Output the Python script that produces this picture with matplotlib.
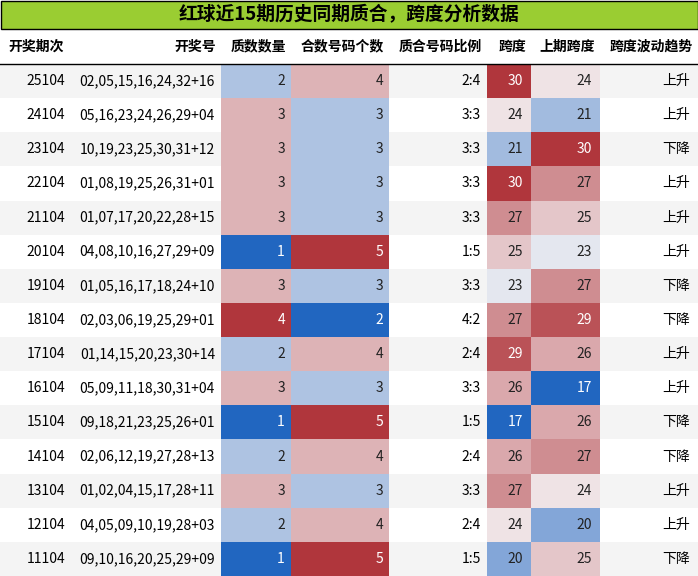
import matplotlib
matplotlib.use("Agg")
import matplotlib.pyplot as plt
from matplotlib.colors import LinearSegmentedColormap
from matplotlib.patches import Rectangle

plt.rcParams['font.family'] = ['Noto Sans CJK SC', 'DejaVu Sans']

title = "红球近15期历史同期质合，跨度分析数据"
headers = ["开奖期次", "开奖号", "质数数量", "合数号码个数", "质合号码比例", "跨度", "上期跨度", "跨度波动趋势"]
periods = ["25104","24104","23104","22104","21104","20104","19104","18104","17104","16104","15104","14104","13104","12104","11104"]
numbers = ["02,05,15,16,24,32+16","05,16,23,24,26,29+04","10,19,23,25,30,31+12","01,08,19,25,26,31+01",
           "01,07,17,20,22,28+15","04,08,10,16,27,29+09","01,05,16,17,18,24+10","02,03,06,19,25,29+01",
           "01,14,15,20,23,30+14","05,09,11,18,30,31+04","09,18,21,23,25,26+01","02,06,12,19,27,28+13",
           "01,02,04,15,17,28+11","04,05,09,10,19,28+03","09,10,16,20,25,29+09"]
primes = [2,3,3,3,3,1,3,4,2,3,1,2,3,2,1]
composites = [4,3,3,3,3,5,3,2,4,3,5,4,3,4,5]
ratios = ["2:4","3:3","3:3","3:3","3:3","1:5","3:3","4:2","2:4","3:3","1:5","2:4","3:3","2:4","1:5"]
spans = [30,24,21,30,27,25,23,27,29,26,17,26,27,24,20]
prev_spans = [24,21,30,27,25,23,27,29,26,17,26,27,24,20,25]
trends = ["上升","上升","下降","上升","上升","上升","下降","下降","上升","上升","下降","下降","上升","上升","下降"]

cmap = LinearSegmentedColormap.from_list("c", ["#2166c0", "#f4f1f3", "#b0363c"])

W, H = 698, 576
fig = plt.figure(figsize=(W/100, H/100), dpi=100)
ax = fig.add_axes([0, 0, 1, 1])
ax.set_xlim(0, W); ax.set_ylim(H, 0); ax.axis('off')

# title
ax.add_patch(Rectangle((0.5, 0.5), W-1, 28, facecolor="#9acd32", edgecolor="black", lw=1))
ax.text(W/2, 15, title, ha='center', va='center', fontsize=13.5, fontweight='bold')

cols = [0, 70, 221, 291, 389, 487, 531, 600, 698]
hy0, hy1 = 29, 64
rh = (H - hy1) / 15
aligns = ['right','right','right','right','right','right','right','right']
for j, h in enumerate(headers):
    ax.text(cols[j+1]-5 if j != 0 else 8, (hy0+hy1)/2, h, ha='right' if j else 'left',
            va='center', fontsize=10, fontweight='bold')
ax.plot([0, W], [hy1, hy1], color='black', lw=1)

def col_of(v, lo, hi):
    t = (v - lo) / (hi - lo)
    c = cmap(t)
    return c, ('white' if abs(t - 0.5) > 0.4 else '#222222')

for i in range(15):
    y0 = hy1 + i*rh
    yc = y0 + rh/2
    ax.add_patch(Rectangle((0, y0), W, rh, facecolor='#f4f4f4' if i % 2 == 0 else 'white', lw=0))
    ax.text(cols[1]-5, yc, periods[i], ha='right', va='center', fontsize=10)
    ax.text(cols[2]-6, yc, numbers[i], ha='right', va='center', fontsize=10)
    for j, (v, lo, hi) in zip([2, 3], [(primes[i], 1, 4), (composites[i], 2, 5)]):
        fc, tc = col_of(v, lo, hi)
        ax.add_patch(Rectangle((cols[j], y0), cols[j+1]-cols[j], rh, facecolor=fc, lw=0))
        ax.text(cols[j+1]-6, yc, str(v), ha='right', va='center', fontsize=10, color=tc)
    ax.text(cols[5]-6, yc, ratios[i], ha='right', va='center', fontsize=10)
    for j, v in zip([5, 6], [spans[i], prev_spans[i]]):
        fc, tc = col_of(v, 17, 30)
        ax.add_patch(Rectangle((cols[j], y0), cols[j+1]-cols[j], rh, facecolor=fc, lw=0))
        ax.text(cols[j+1]-8, yc, str(v), ha='right', va='center', fontsize=10, color=tc)
    ax.text(cols[8]-8, yc, trends[i], ha='right', va='center', fontsize=10)

fig.savefig("out.png", dpi=100)
